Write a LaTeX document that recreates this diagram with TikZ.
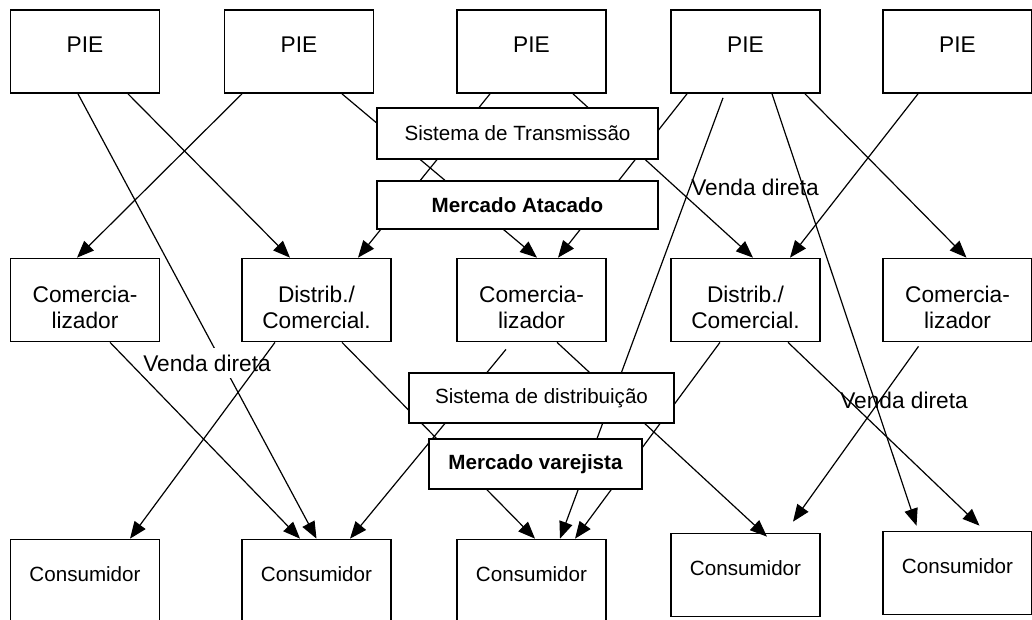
\documentclass[tikz,border=0pt]{standalone}
\usepackage{fontspec}
\setmainfont{Liberation Sans}
\usetikzlibrary{positioning,arrows.meta}
\newcommand\bigtxt{\fontsize{22.7}{26}\selectfont}
\newcommand\smalltxt{\fontsize{20.6}{24}\selectfont}
\tikzset{
  box/.style={draw, line width=1.7pt, minimum width=149pt, minimum height=83pt, inner sep=0pt},
  boxtxt/.style={inner sep=0pt, align=center, font=\bigtxt},
  constxt/.style={inner sep=0pt, font=\smalltxt},
  sysbox/.style={draw, fill=white, line width=1.7pt, inner sep=0pt, font=\smalltxt},
  flow/.style={line width=1.2pt, -{Triangle[length=17pt,width=13.5pt]}},
  venda/.style={inner sep=0pt, font=\bigtxt}
}
\begin{document}
\begin{tikzpicture}[x=1pt,y=-1pt]
\clip (0,0) rectangle (1032,619);
\fill[white] (0,0) rectangle (1032,619);

\node[box] (pie1) at (85,51.5) {};
\node[box] (pie2) at (299,51.5) {};
\node[box] (pie3) at (531.5,51.5) {};
\node[box] (pie4) at (745.5,51.5) {};
\node[box] (pie5) at (957.5,51.5) {};
\node[boxtxt, below=28pt of pie1.north] (pie1t) {PIE};
\node[boxtxt, below=28pt of pie2.north] (pie2t) {PIE};
\node[boxtxt, below=28pt of pie3.north] (pie3t) {PIE};
\node[boxtxt, below=28pt of pie4.north] (pie4t) {PIE};
\node[boxtxt, below=28pt of pie5.north] (pie5t) {PIE};

\node[box] (com1) at (85,300) {};
\node[box] (dist1) at (316.5,300) {};
\node[box] (com2) at (531.5,300) {};
\node[box] (dist2) at (745.5,300) {};
\node[box] (com3) at (957.5,300) {};
\node[boxtxt, below=28pt of com1.north] (com1t) {Comercia-\\lizador};
\node[boxtxt, below=28pt of dist1.north] (dist1t) {Distrib./\\Comercial.};
\node[boxtxt, below=28pt of com2.north] (com2t) {Comercia-\\lizador};
\node[boxtxt, below=28pt of dist2.north] (dist2t) {Distrib./\\Comercial.};
\node[boxtxt, below=28pt of com3.north] (com3t) {Comercia-\\lizador};

\node[box] (cons1) at (85,581) {};
\node[box] (cons2) at (316.5,581) {};
\node[box] (cons3) at (531.5,581) {};
\node[box] (cons4) at (745.5,575) {};
\node[box] (cons5) at (957.5,573) {};
\node[constxt, below=28pt of cons1.north] (cons1t) {Consumidor};
\node[constxt, below=28pt of cons2.north] (cons2t) {Consumidor};
\node[constxt, below=28pt of cons3.north] (cons3t) {Consumidor};
\node[constxt, below=28pt of cons4.north] (cons4t) {Consumidor};
\node[constxt, below=28pt of cons5.north] (cons5t) {Consumidor};

\draw[flow] ([xshift=-7pt]pie1.south) -- (cons2.north);
\node[venda, fill=white, inner ysep=7pt, inner xsep=1pt] (venda1) at (207,363) {Venda direta};
\node[venda] (venda2) at (755,187) {Venda direta};
\node[venda] (venda3) at (904,400) {Venda direta};

\draw[flow] ([xshift=43pt]pie1.south) -- ([xshift=-26.5pt]dist1.north);
\draw[flow] ([xshift=-57pt]pie2.south) -- ([xshift=-8pt]com1.north);
\draw[flow] ([xshift=43pt]pie2.south) -- ([xshift=5.5pt]com2.north);
\draw[flow] ([xshift=-41.5pt]pie3.south) -- ([xshift=41.5pt]dist1.north);
\draw[flow] ([xshift=41.5pt]pie3.south) -- ([xshift=7.5pt]dist2.north);
\draw[flow] ([xshift=-58.5pt]pie4.south) -- ([xshift=26.5pt]com2.north);
\draw[flow] ([xshift=-22.5pt,yshift=-4pt]pie4.south) -- ([xshift=28.5pt]cons3.north);
\draw[flow] ([xshift=26.5pt]pie4.south) -- ([xshift=-41pt,yshift=5pt]cons5.north);
\draw[flow] ([xshift=59.5pt]pie4.south) -- ([xshift=9pt]com3.north);
\draw[flow] ([xshift=-39.5pt]pie5.south) -- ([xshift=44.5pt]dist2.north);

\draw[flow] ([xshift=25pt]com1.south) -- ([xshift=-16.5pt]cons2.north);
\draw[flow] ([xshift=-41.5pt]dist1.south) -- ([xshift=45pt]cons1.north);
\draw[flow] ([xshift=25.5pt]dist1.south) -- ([xshift=3.5pt]cons3.north);
\draw[flow] ([xshift=-25.5pt,yshift=-7pt]com2.south) -- ([xshift=33.5pt]cons2.north);
\draw[flow] ([xshift=25.5pt]com2.south) -- ([xshift=21.5pt,yshift=-4pt]cons4.north);
\draw[flow] ([xshift=-25.5pt]dist2.south) -- ([xshift=43.5pt]cons3.north);
\draw[flow] ([xshift=42.5pt]dist2.south) -- ([xshift=22pt,yshift=5pt]cons5.north);
\draw[flow] ([xshift=-39pt,yshift=-4pt]com3.south) -- ([xshift=47.5pt,yshift=11pt]cons4.north);

\node[sysbox, minimum width=281pt, minimum height=51pt] (trans) at (517.5,133.5) {Sistema de Transmissão};
\node[sysbox, minimum width=281pt, minimum height=48pt] (atac) at (517.5,205) {\bfseries Mercado Atacado};
\node[sysbox, minimum width=265pt, minimum height=50pt] (distr) at (541.5,398) {Sistema de distribuição};
\node[sysbox, minimum width=213pt, minimum height=50pt] (varej) at (535.5,464) {\bfseries Mercado varejista};
\end{tikzpicture}
\end{document}
